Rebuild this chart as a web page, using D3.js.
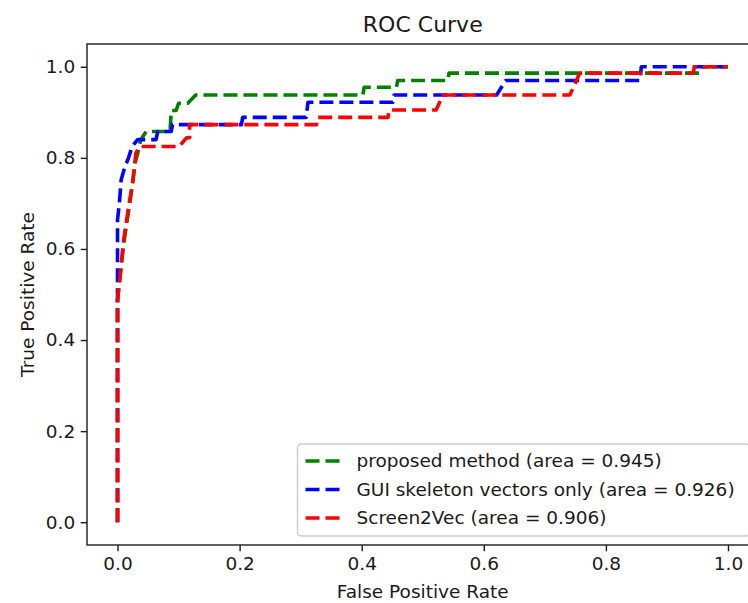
<!DOCTYPE html>
<html>
<head>
<meta charset="utf-8">
<script src="https://cdn.jsdelivr.net/npm/d3@7"></script>
<style>
  html, body { margin: 0; padding: 0; background: #fff; }
  svg { display: block; font-family: "DejaVu Sans", sans-serif; }
</style>
</head>
<body>
<svg id="chart" width="748" height="603"></svg>
<script>
// ---- data ----
const seriesNames = ["proposed method (area = 0.945)", "GUI skeleton vectors only (area = 0.926)", "Screen2Vec (area = 0.906)"];
const seriesColors = ["#008000", "#0000ff", "#ff0000"];

const fprProposed = [0, 0, 0.005, 0.010, 0.016, 0.021, 0.025, 0.029, 0.033, 0.038, 0.047, 0.086, 0.088, 0.096, 0.100, 0.115, 0.128, 0.402, 0.404, 0.457, 0.459, 0.541, 0.543, 0.954, 0.956, 1.0];
const tprProposed = [0, 0.488, 0.55, 0.61, 0.664, 0.708, 0.75, 0.79, 0.81, 0.84, 0.858, 0.858, 0.904, 0.904, 0.920, 0.920, 0.938, 0.938, 0.955, 0.955, 0.970, 0.970, 0.986, 0.986, 1.0, 1.0];

const fprSkeleton = [0, 0, 0.000, 0.003, 0.006, 0.012, 0.018, 0.024, 0.033, 0.063, 0.066, 0.088, 0.090, 0.203, 0.205, 0.309, 0.312, 0.451, 0.453, 0.621, 0.636, 0.856, 0.858, 1.0];
const tprSkeleton = [0, 0.50, 0.664, 0.70, 0.752, 0.78, 0.80, 0.825, 0.84, 0.84, 0.858, 0.858, 0.873, 0.873, 0.889, 0.889, 0.922, 0.922, 0.938, 0.938, 0.970, 0.970, 1.0, 1.0];

const fprScreen2Vec = [0, 0, 0.005, 0.010, 0.015, 0.020, 0.025, 0.030, 0.036, 0.101, 0.113, 0.118, 0.118, 0.326, 0.328, 0.443, 0.445, 0.522, 0.533, 0.741, 0.757, 0.943, 0.945, 1.0];
const tprScreen2Vec = [0, 0.488, 0.55, 0.62, 0.664, 0.708, 0.745, 0.81, 0.825, 0.825, 0.844, 0.844, 0.873, 0.873, 0.889, 0.889, 0.905, 0.905, 0.938, 0.938, 0.986, 0.986, 1.0, 1.0];

const tickValues = [0.0, 0.2, 0.4, 0.6, 0.8, 1.0];
const titleText = "ROC Curve";
const xLabelText = "False Positive Rate";
const yLabelText = "True Positive Rate";

// ---- layout ----
const svg = d3.select("#chart");
const pLeft = 87, pTop = 44, pBottom = 545, pRight = 758.5;
const textColor = "#1a1a1a";
const fs = "18.5px";

const x = d3.scaleLinear().domain([-0.05, 1.05]).range([pLeft, pRight]);
const y = d3.scaleLinear().domain([-0.05, 1.05]).range([pBottom, pTop]);

const series = [
  { name: seriesNames[0], color: seriesColors[0], fpr: fprProposed, tpr: tprProposed },
  { name: seriesNames[1], color: seriesColors[1], fpr: fprSkeleton, tpr: tprSkeleton },
  { name: seriesNames[2], color: seriesColors[2], fpr: fprScreen2Vec, tpr: tprScreen2Vec }
];

const line = d3.line().x(d => x(d[0])).y(d => y(d[1]));

const lw = 3.6, dash = "14,6";

svg.append("g").selectAll("path").data(series).join("path")
  .attr("d", s => line(s.fpr.map((f, i) => [f, s.tpr[i]])))
  .attr("fill", "none")
  .attr("stroke", s => s.color)
  .attr("stroke-width", lw)
  .attr("stroke-dasharray", dash)
  .attr("stroke-linejoin", "round");

// axes
const fmt = d3.format(".1f");
const xAxis = svg.append("g").attr("transform", `translate(0,${pBottom})`)
  .call(d3.axisBottom(x).tickValues(tickValues).tickFormat(fmt).tickSize(6.3).tickPadding(5.5));
const yAxis = svg.append("g").attr("transform", `translate(${pLeft},0)`)
  .call(d3.axisLeft(y).tickValues(tickValues).tickFormat(fmt).tickSize(6.3).tickPadding(5.5));
[xAxis, yAxis].forEach(a => {
  a.select(".domain").remove();
  a.selectAll(".tick line").attr("stroke", textColor).attr("stroke-width", 1.4);
  a.selectAll(".tick text").attr("fill", textColor).style("font-size", fs).style("font-family", "DejaVu Sans");
});

// spines
svg.append("rect")
  .attr("x", pLeft).attr("y", pTop)
  .attr("width", pRight - pLeft).attr("height", pBottom - pTop)
  .attr("fill", "none").attr("stroke", textColor).attr("stroke-width", 1.4);

// title and labels
svg.append("text").attr("x", (pLeft + pRight) / 2).attr("y", 32)
  .attr("text-anchor", "middle").attr("fill", textColor)
  .style("font-size", "22px").text(titleText);
svg.append("text").attr("x", (pLeft + pRight) / 2).attr("y", 598)
  .attr("text-anchor", "middle").attr("fill", textColor)
  .style("font-size", fs).text(xLabelText);
svg.append("text")
  .attr("transform", `translate(34,${(pTop + pBottom) / 2}) rotate(-90)`)
  .attr("text-anchor", "middle").attr("fill", textColor)
  .style("font-size", fs).text(yLabelText);

// legend (lower right)
const legW = 452, legH = 92;
const legX = pRight - 9 - legW, legY = pBottom - 9 - legH;
const leg = svg.append("g").attr("transform", `translate(${legX},${legY})`);
leg.append("rect").attr("width", legW).attr("height", legH)
  .attr("rx", 4).attr("ry", 4)
  .attr("fill", "#fff").attr("fill-opacity", 0.8)
  .attr("stroke", "#cccccc").attr("stroke-width", 1.4);
const rowY = i => 17 + i * 28.5;
const items = leg.selectAll("g.item").data(series).join("g").attr("class", "item")
  .attr("transform", (d, i) => `translate(0,${rowY(i)})`);
items.append("line").attr("x1", 8).attr("x2", 44).attr("y1", 0).attr("y2", 0)
  .attr("stroke", d => d.color).attr("stroke-width", lw).attr("stroke-dasharray", dash);
items.append("text").attr("x", 59).attr("y", 0).attr("dy", "0.35em")
  .attr("fill", textColor).style("font-size", fs).text(d => d.name);
</script>
</body>
</html>
